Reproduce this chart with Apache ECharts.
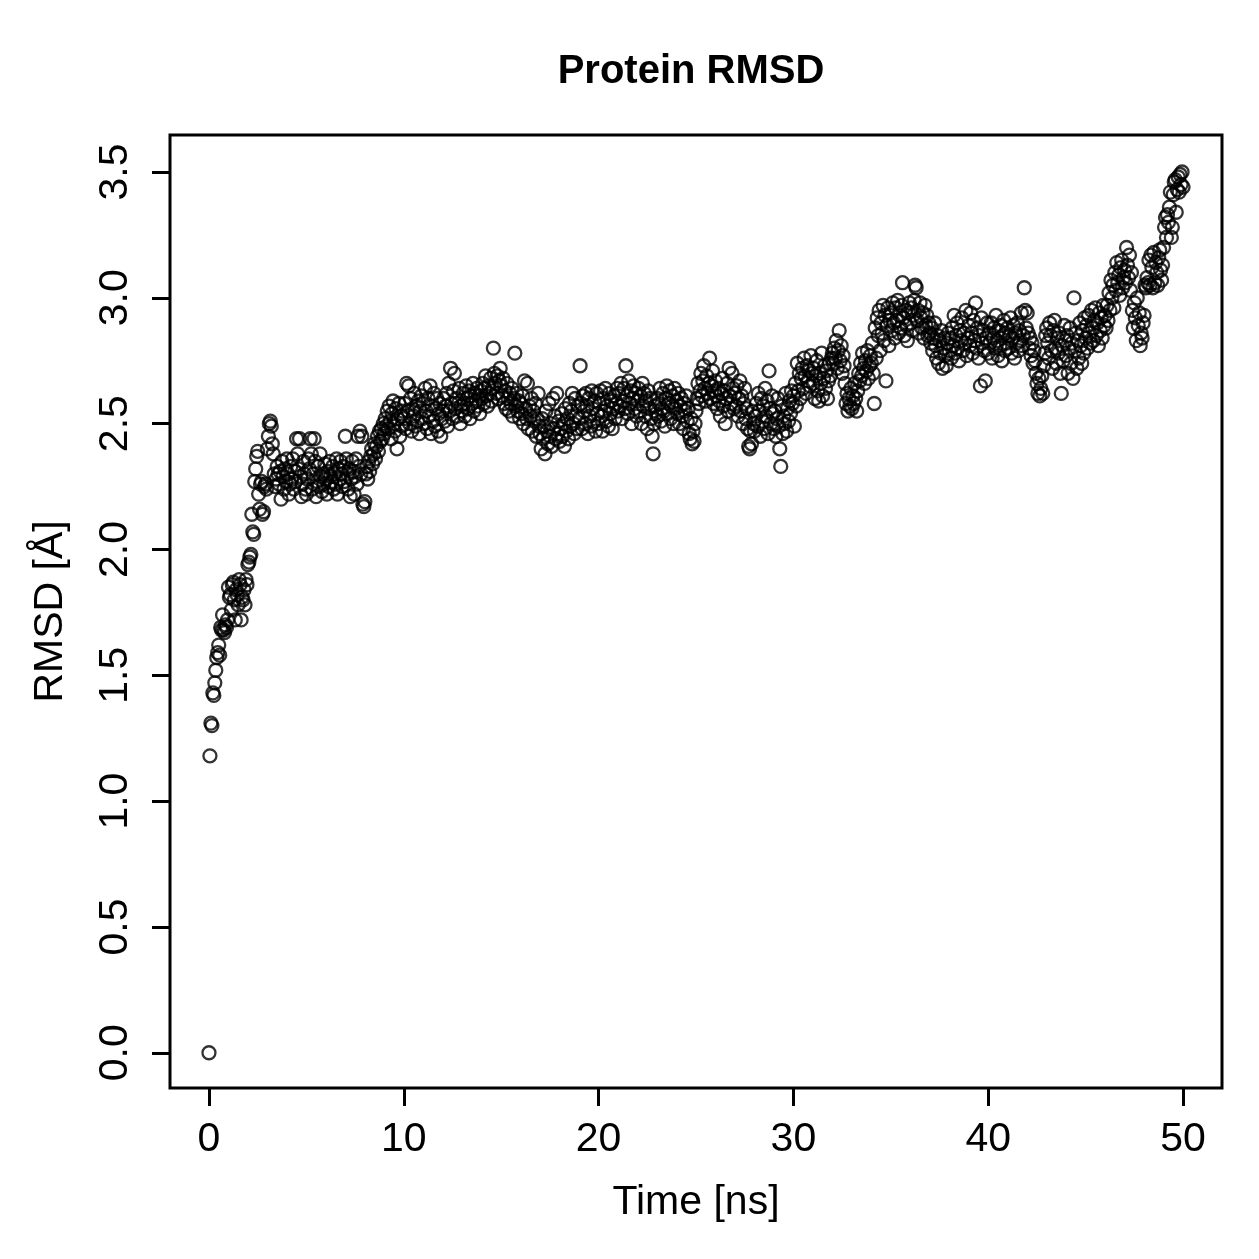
<!DOCTYPE html>
<html>
<head>
<meta charset="utf-8">
<title>Protein RMSD</title>
<script src="https://cdn.jsdelivr.net/npm/echarts@6/dist/echarts.min.js"></script>
<style>
  html, body { margin: 0; padding: 0; background: #fff; }
  #rmsd-chart { width: 1259px; height: 1259px; }
</style>
</head>
<body>
<div id="rmsd-chart"></div>
<script>
// Sampling step of the trajectory (ns)
const timeStep = 0.05;

// RMSD values (Å), one row per ns, 20 frames each
const rmsd = [
  0.00, 1.18, 1.31, 1.30, 1.43, 1.42, 1.47, 1.52, 1.57, 1.59, 1.62, 1.58, 1.69, 1.68, 1.74, 1.68, 1.67, 1.70, 1.69, 1.72,
  1.85, 1.81, 1.82, 1.76, 1.86, 1.87, 1.80, 1.72, 1.84, 1.82, 1.78, 1.88, 1.86, 1.72, 1.81, 1.80, 1.84, 1.78, 1.88, 1.86,
  1.94, 1.95, 1.97, 1.98, 2.14, 2.07, 2.06, 2.27, 2.32, 2.37, 2.39, 2.22, 2.16, 2.26, 2.27, 2.14, 2.15, 2.25, 2.26, 2.24,
  2.40, 2.45, 2.50, 2.51, 2.49, 2.42, 2.38, 2.30, 2.25, 2.28, 2.33, 2.30, 2.26, 2.31, 2.20, 2.35, 2.29, 2.24, 2.32, 2.27,
  2.36, 2.30, 2.22, 2.26, 2.33, 2.28, 2.36, 2.24, 2.31, 2.27, 2.44, 2.38, 2.32, 2.44, 2.29, 2.21, 2.26, 2.35, 2.30, 2.24,
  2.22, 2.28, 2.36, 2.32, 2.44, 2.38, 2.24, 2.30, 2.44, 2.35, 2.21, 2.27, 2.33, 2.25, 2.38, 2.29, 2.23, 2.30, 2.26, 2.34,
  2.28, 2.22, 2.31, 2.25, 2.35, 2.29, 2.27, 2.33, 2.24, 2.30, 2.26, 2.36, 2.22, 2.32, 2.28, 2.35, 2.30, 2.25, 2.33, 2.27,
  2.45, 2.36, 2.30, 2.24, 2.32, 2.21, 2.28, 2.35, 2.31, 2.22, 2.29, 2.36, 2.26, 2.45, 2.33, 2.47, 2.30, 2.45, 2.18, 2.17,
  2.19, 2.30, 2.33, 2.28, 2.35, 2.31, 2.37, 2.40, 2.34, 2.38, 2.42, 2.36, 2.41, 2.45, 2.39, 2.47, 2.43, 2.48, 2.44, 2.50,
  2.46, 2.52, 2.49, 2.55, 2.48, 2.57, 2.51, 2.44, 2.54, 2.59, 2.50, 2.47, 2.56, 2.40, 2.52, 2.58, 2.45, 2.53, 2.49, 2.55,
  2.52, 2.58, 2.48, 2.66, 2.55, 2.65, 2.50, 2.60, 2.47, 2.56, 2.53, 2.62, 2.49, 2.57, 2.51, 2.59, 2.46, 2.55, 2.61, 2.52,
  2.58, 2.50, 2.64, 2.55, 2.48, 2.60, 2.53, 2.65, 2.46, 2.57, 2.51, 2.62, 2.49, 2.56, 2.60, 2.47, 2.54, 2.58, 2.45, 2.52,
  2.55, 2.60, 2.51, 2.57, 2.62, 2.49, 2.66, 2.55, 2.72, 2.58, 2.52, 2.63, 2.70, 2.56, 2.60, 2.53, 2.58, 2.64, 2.50, 2.57,
  2.55, 2.62, 2.58, 2.53, 2.65, 2.60, 2.56, 2.63, 2.52, 2.61, 2.58, 2.66, 2.55, 2.62, 2.59, 2.64, 2.57, 2.61, 2.54, 2.63,
  2.60, 2.66, 2.58, 2.64, 2.69, 2.61, 2.57, 2.65, 2.62, 2.68, 2.59, 2.64, 2.80, 2.70, 2.66, 2.62, 2.69, 2.60, 2.67, 2.72,
  2.65, 2.61, 2.68, 2.58, 2.63, 2.56, 2.66, 2.60, 2.55, 2.62, 2.58, 2.64, 2.53, 2.60, 2.78, 2.57, 2.62, 2.55, 2.59, 2.52,
  2.58, 2.54, 2.61, 2.50, 2.67, 2.56, 2.52, 2.66, 2.48, 2.57, 2.53, 2.60, 2.47, 2.55, 2.51, 2.58, 2.45, 2.52, 2.62, 2.49,
  2.46, 2.40, 2.52, 2.44, 2.49, 2.38, 2.55, 2.47, 2.42, 2.58, 2.45, 2.50, 2.41, 2.60, 2.48, 2.53, 2.44, 2.62, 2.46, 2.51,
  2.43, 2.48, 2.54, 2.45, 2.50, 2.41, 2.56, 2.47, 2.52, 2.44, 2.58, 2.49, 2.55, 2.62, 2.50, 2.46, 2.60, 2.53, 2.48, 2.57,
  2.52, 2.73, 2.58, 2.48, 2.61, 2.55, 2.50, 2.62, 2.57, 2.46, 2.60, 2.53, 2.49, 2.63, 2.56, 2.51, 2.59, 2.47, 2.62, 2.54,
  2.50, 2.58, 2.63, 2.53, 2.47, 2.60, 2.55, 2.64, 2.51, 2.57, 2.49, 2.62, 2.54, 2.59, 2.48, 2.56, 2.61, 2.52, 2.58, 2.64,
  2.55, 2.62, 2.57, 2.66, 2.52, 2.59, 2.64, 2.56, 2.73, 2.61, 2.54, 2.67, 2.58, 2.63, 2.50, 2.60, 2.65, 2.56, 2.62, 2.53,
  2.59, 2.64, 2.55, 2.61, 2.50, 2.66, 2.57, 2.62, 2.53, 2.59, 2.48, 2.63, 2.56, 2.60, 2.52, 2.45, 2.38, 2.50, 2.57, 2.54,
  2.60, 2.53, 2.58, 2.64, 2.51, 2.56, 2.62, 2.55, 2.49, 2.60, 2.65, 2.54, 2.58, 2.63, 2.52, 2.57, 2.61, 2.50, 2.64, 2.56,
  2.59, 2.54, 2.62, 2.50, 2.57, 2.60, 2.53, 2.48, 2.58, 2.55, 2.61, 2.51, 2.56, 2.46, 2.44, 2.52, 2.42, 2.47, 2.43, 2.50,
  2.55, 2.60, 2.66, 2.58, 2.63, 2.70, 2.61, 2.67, 2.73, 2.64, 2.59, 2.69, 2.62, 2.66, 2.76, 2.60, 2.65, 2.71, 2.58, 2.63,
  2.67, 2.61, 2.56, 2.64, 2.59, 2.53, 2.62, 2.68, 2.57, 2.63, 2.50, 2.60, 2.66, 2.55, 2.72, 2.61, 2.58, 2.70, 2.64, 2.56,
  2.62, 2.57, 2.65, 2.53, 2.60, 2.67, 2.55, 2.61, 2.50, 2.58, 2.64, 2.52, 2.56, 2.48, 2.41, 2.40, 2.47, 2.42, 2.55, 2.50,
  2.47, 2.53, 2.58, 2.49, 2.62, 2.55, 2.45, 2.60, 2.51, 2.57, 2.48, 2.64, 2.53, 2.59, 2.46, 2.71, 2.56, 2.50, 2.61, 2.54,
  2.48, 2.55, 2.45, 2.52, 2.60, 2.49, 2.40, 2.33, 2.57, 2.46, 2.53, 2.50, 2.62, 2.47, 2.56, 2.51, 2.59, 2.54, 2.63, 2.58,
  2.61, 2.49, 2.66, 2.57, 2.74, 2.63, 2.70, 2.60, 2.68, 2.72, 2.64, 2.76, 2.69, 2.62, 2.73, 2.67, 2.71, 2.65, 2.77, 2.70,
  2.66, 2.72, 2.60, 2.69, 2.75, 2.63, 2.59, 2.70, 2.66, 2.78, 2.61, 2.68, 2.73, 2.64, 2.71, 2.60, 2.67, 2.74, 2.69, 2.76,
  2.78, 2.74, 2.80, 2.76, 2.83, 2.72, 2.79, 2.87, 2.75, 2.81, 2.70, 2.77, 2.73, 2.66, 2.58, 2.62, 2.55, 2.60, 2.57, 2.64,
  2.56, 2.61, 2.58, 2.66, 2.60, 2.55, 2.63, 2.70, 2.67, 2.74, 2.69, 2.78, 2.72, 2.66, 2.75, 2.71, 2.79, 2.68, 2.73, 2.77,
  2.74, 2.82, 2.70, 2.58, 2.88, 2.76, 2.92, 2.85, 2.95, 2.79, 2.90, 2.86, 2.97, 2.83, 2.93, 2.67, 2.89, 2.96, 2.81, 2.91,
  2.94, 2.87, 2.98, 2.90, 2.84, 2.96, 2.91, 2.99, 2.86, 2.93, 2.88, 2.97, 3.06, 2.92, 2.85, 2.95, 2.89, 2.83, 2.94, 2.98,
  2.90, 2.96, 2.87, 2.93, 2.99, 3.05, 3.04, 2.91, 2.95, 2.86, 2.98, 2.92, 2.88, 2.94, 2.84, 2.97, 2.89, 2.93, 2.85, 2.90,
  2.86, 2.82, 2.88, 2.79, 2.84, 2.90, 2.81, 2.76, 2.85, 2.74, 2.83, 2.78, 2.87, 2.72, 2.80, 2.84, 2.77, 2.73, 2.82, 2.86,
  2.79, 2.84, 2.76, 2.88, 2.81, 2.93, 2.78, 2.85, 2.90, 2.80, 2.75, 2.87, 2.83, 2.92, 2.79, 2.86, 2.82, 2.95, 2.77, 2.84,
  2.89, 2.81, 2.94, 2.86, 2.78, 2.91, 2.83, 2.98, 2.80, 2.88, 2.76, 2.85, 2.65, 2.92, 2.82, 2.87, 2.79, 2.67, 2.84, 2.90,
  2.78, 2.86, 2.82, 2.90, 2.76, 2.84, 2.88, 2.80, 2.93, 2.83, 2.77, 2.87, 2.81, 2.89, 2.75, 2.85, 2.91, 2.79, 2.86, 2.82,
  2.88, 2.80, 2.85, 2.92, 2.78, 2.84, 2.89, 2.76, 2.86, 2.82, 2.90, 2.79, 2.87, 2.83, 2.94, 2.81, 2.85, 3.04, 2.95, 2.88,
  2.94, 2.86, 2.80, 2.84, 2.77, 2.82, 2.74, 2.79, 2.75, 2.70, 2.66, 2.62, 2.68, 2.61, 2.64, 2.69, 2.62, 2.73, 2.78, 2.85,
  2.88, 2.82, 2.76, 2.90, 2.85, 2.79, 2.72, 2.87, 2.91, 2.80, 2.74, 2.84, 2.78, 2.86, 2.70, 2.62, 2.81, 2.75, 2.89, 2.83,
  2.77, 2.85, 2.70, 2.80, 2.88, 2.74, 2.82, 2.68, 3.00, 2.79, 2.86, 2.72, 2.83, 2.76, 2.90, 2.81, 2.74, 2.87, 2.78, 2.92,
  2.84, 2.89, 2.80, 2.93, 2.86, 2.82, 2.95, 2.88, 2.83, 2.91, 2.96, 2.85, 2.90, 2.81, 2.94, 2.87, 2.92, 2.84, 2.97, 2.89,
  2.93, 2.88, 2.97, 2.91, 3.02, 2.95, 3.07, 3.00, 3.05, 2.96, 3.10, 3.03, 3.14, 3.06, 3.09, 3.01, 3.12, 3.15, 3.04, 3.08,
  3.11, 3.06, 3.20, 3.13, 3.08, 3.17, 3.03, 3.10, 2.95, 2.88, 2.98, 2.92, 2.83, 3.00, 2.89, 2.94, 2.81, 2.86, 2.84, 2.90,
  2.93, 3.05, 3.04, 3.08, 3.06, 3.15, 3.05, 3.17, 3.12, 3.04, 3.18, 3.06, 3.14, 3.10, 3.05, 3.16, 3.19, 3.11, 3.07, 3.13,
  3.20, 3.28, 3.32, 3.24, 3.33, 3.30, 3.36, 3.42, 3.24, 3.28, 3.41, 3.46, 3.47, 3.34, 3.43, 3.48, 3.42, 3.49, 3.45, 3.50,
  3.44
];

// Axis ticks
const timeTicks = [0, 10, 20, 30, 40, 50];
const rmsdTicks = [0, 0.5, 1, 1.5, 2, 2.5, 3, 3.5];

const fontFamily = "Liberation Sans, Arial, Helvetica, sans-serif";

// Build [time, rmsd] pairs
const points = rmsd.map((v, i) => [+(i * timeStep).toFixed(2), v]);

const option = {
  animation: false,
  backgroundColor: "#ffffff",
  title: {
    text: "Protein RMSD",
    left: 686,
    top: 47,
    textAlign: "center",
    textStyle: {
      fontFamily: fontFamily,
      fontSize: 40,
      fontWeight: "bold",
      color: "#000",
    },
  },
  grid: {
    left: 170,
    right: 37,
    top: 135,
    bottom: 171,
    show: true,
    borderColor: "#000",
    borderWidth: 3,
    backgroundColor: "transparent",
  },
  xAxis: {
    type: "value",
    min: -2,
    max: 52,
    name: "Time [ns]",
    nameLocation: "middle",
    nameGap: 94,
    nameTextStyle: { fontFamily: fontFamily, fontSize: 41, color: "#000" },
    axisLine: { show: false, onZero: false },
    splitLine: { show: false },
    axisTick: {
      show: true,
      length: 18,
      customValues: timeTicks,
      lineStyle: { color: "#000", width: 3 },
    },
    axisLabel: {
      customValues: timeTicks,
      margin: 31,
      fontFamily: fontFamily,
      fontSize: 41,
      color: "#000",
    },
  },
  yAxis: {
    type: "value",
    min: -0.14,
    max: 3.647,
    name: "RMSD [Å]",
    nameLocation: "middle",
    nameGap: 99,
    nameTextStyle: { fontFamily: fontFamily, fontSize: 41, color: "#000" },
    axisLine: { show: false, onZero: false },
    splitLine: { show: false },
    axisTick: {
      show: true,
      length: 18,
      customValues: rmsdTicks,
      lineStyle: { color: "#000", width: 3 },
    },
    axisLabel: {
      customValues: rmsdTicks,
      rotate: 90,
      margin: 34,
      fontFamily: fontFamily,
      fontSize: 41,
      color: "#000",
      formatter: (v) => v.toFixed(1),
    },
  },
  series: [
    {
      type: "scatter",
      data: points,
      symbol: "circle",
      symbolSize: 13,
      itemStyle: {
        color: "rgba(0,0,0,0)",
        borderColor: "#000",
        borderWidth: 2.3,
      },
      emphasis: { disabled: true },
    },
  ],
};

const chart = echarts.init(document.getElementById("rmsd-chart"));
chart.setOption(option);
window.addEventListener("resize", () => chart.resize());
</script>
</body>
</html>
